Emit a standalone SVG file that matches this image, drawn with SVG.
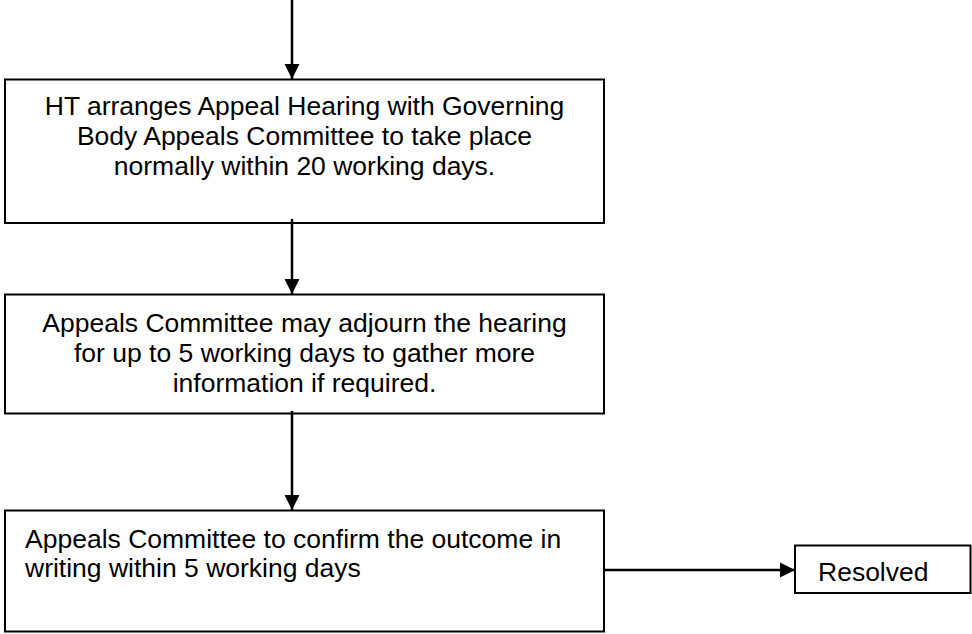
<svg xmlns="http://www.w3.org/2000/svg" width="972" height="634" viewBox="0 0 972 634">
<style>
.box{fill:#fff;stroke:#000;stroke-width:2}
.t{font-family:"Liberation Sans",Arial,sans-serif;font-size:26.5px;fill:#000}
.c{text-anchor:middle}
.conn{stroke:#000;stroke-width:2.5;fill:none}
</style>
<defs>
<marker id="ah" markerUnits="userSpaceOnUse" markerWidth="16" markerHeight="16" viewBox="0 0 16 16" refX="15" refY="8" orient="auto">
<polygon points="0,0.5 15,8 0,15.5" fill="#000"/>
</marker>
</defs>
<rect width="972" height="634" fill="#fff"/>
<g id="n1">
<rect class="box" x="5" y="79.5" width="599" height="143.5"/>
<text class="t c" x="304.5" y="115">HT arranges Appeal Hearing with Governing</text>
<text class="t c" x="304.5" y="145">Body Appeals Committee to take place</text>
<text class="t c" x="304.5" y="175">normally within 20 working days.</text>
</g>
<g id="n2">
<rect class="box" x="5" y="294.5" width="599" height="119"/>
<text class="t c" x="304.5" y="332">Appeals Committee may adjourn the hearing</text>
<text class="t c" x="304.5" y="362">for up to 5 working days to gather more</text>
<text class="t c" x="304.5" y="392">information if required.</text>
</g>
<g id="n3">
<rect class="box" x="5" y="510.5" width="599" height="121"/>
<text class="t" x="25" y="548">Appeals Committee to confirm the outcome in</text>
<text class="t" x="25" y="577">writing within 5 working days</text>
</g>
<g id="n4">
<rect class="box" x="795" y="545.5" width="175.5" height="47.5"/>
<text class="t" x="818" y="581">Resolved</text>
</g>
<g id="connectors">
<line class="conn" x1="292" y1="0" x2="292" y2="79" marker-end="url(#ah)"/>
<line class="conn" x1="292" y1="219" x2="292" y2="294" marker-end="url(#ah)"/>
<line class="conn" x1="292" y1="411" x2="292" y2="510" marker-end="url(#ah)"/>
<line class="conn" x1="604" y1="570" x2="795" y2="570" marker-end="url(#ah)"/>
</g>
</svg>
